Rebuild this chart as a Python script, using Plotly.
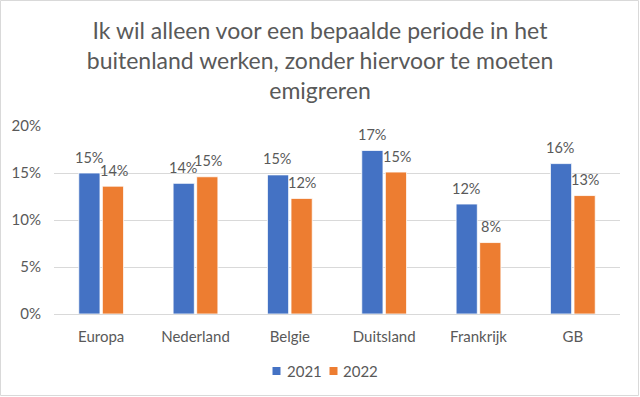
import plotly.graph_objects as go

categories = ["Europa", "Nederland", "Belgie", "Duitsland", "Frankrijk", "GB"]
vals_2021 = [15.0, 13.9, 14.8, 17.4, 11.7, 16.0]
vals_2022 = [13.6, 14.6, 12.3, 15.1, 7.6, 12.6]
series = [("2021", vals_2021, "#4472C4"), ("2022", vals_2022, "#ED7D31")]
y_ticks = [0, 5, 10, 15, 20]

W, H = 640, 397
L, R, T, B = 54, 20, 126, 83
pw, ph = W - L - R, H - T - B
FONT = "Lato, Open Sans, Liberation Sans, sans-serif"
GREY = "#595959"

def px_x(x):
    return (x - L) / pw

def px_y(y):
    return (H - B - y) / ph

fig = go.Figure()
annotations = []
shapes = []
legend_x = [272.5, 329.5]
for i, (name, vals, col) in enumerate(series):
    fig.add_trace(go.Bar(
        x=categories, y=vals, name=name, showlegend=False,
        marker=dict(color=col, line=dict(color="white", width=0.8)),
    ))
    for c, v in zip(categories, vals):
        annotations.append(dict(
            x=c, y=v, xref="x", yref="y", text=f"{round(v):d}%", showarrow=False,
            xshift=(-1 if i == 0 else 1) * 12.5, yshift=16,
            font=dict(size=14.5, color=GREY, family=FONT),
        ))
    # legend entry
    lx = legend_x[i]
    shapes.append(dict(type="rect", xref="paper", yref="paper",
                       x0=px_x(lx), x1=px_x(lx + 8), y0=px_y(375), y1=px_y(367),
                       fillcolor=col, line=dict(width=0)))
    annotations.append(dict(x=px_x(lx + 12), y=px_y(371), xref="paper", yref="paper",
                            text=name, showarrow=False, xanchor="left", yanchor="middle",
                            font=dict(size=15, color=GREY, family=FONT)))

shapes.append(dict(type="rect", xref="paper", yref="paper",
                   x0=px_x(0.5), x1=px_x(W - 1.5), y0=px_y(H - 1.5), y1=px_y(0.5),
                   line=dict(color="#d9d9d9", width=1), layer="below"))

fig.update_layout(
    width=W, height=H,
    margin=dict(l=L, r=R, t=T, b=B),
    paper_bgcolor="white", plot_bgcolor="white",
    font=dict(family=FONT, color=GREY),
    showlegend=False,
    title=dict(
        text="Ik wil alleen voor een bepaalde periode in het<br>buitenland werken, zonder hiervoor te moeten<br>emigreren",
        x=0.5, xanchor="center", y=1 - 39 / H, yanchor="top",
        font=dict(size=23, color=GREY, family=FONT),
    ),
    barmode="group", bargap=0.5, bargroupgap=0.1,
    xaxis=dict(showgrid=False, showline=True, linecolor="#d9d9d9", linewidth=1,
               tickfont=dict(size=15, color=GREY), ticks="", ticklabelstandoff=9),
    yaxis=dict(range=[0, 20], tickvals=y_ticks, ticktext=[f"{t}%" for t in y_ticks],
               showgrid=True, gridcolor="#d9d9d9", gridwidth=1, zeroline=False,
               tickfont=dict(size=15, color=GREY), ticks="", ticklabelstandoff=12),
    annotations=annotations,
    shapes=shapes,
)

fig.write_html("out.html", config={"displayModeBar": False},
               post_script="document.body.style.margin='0';")
